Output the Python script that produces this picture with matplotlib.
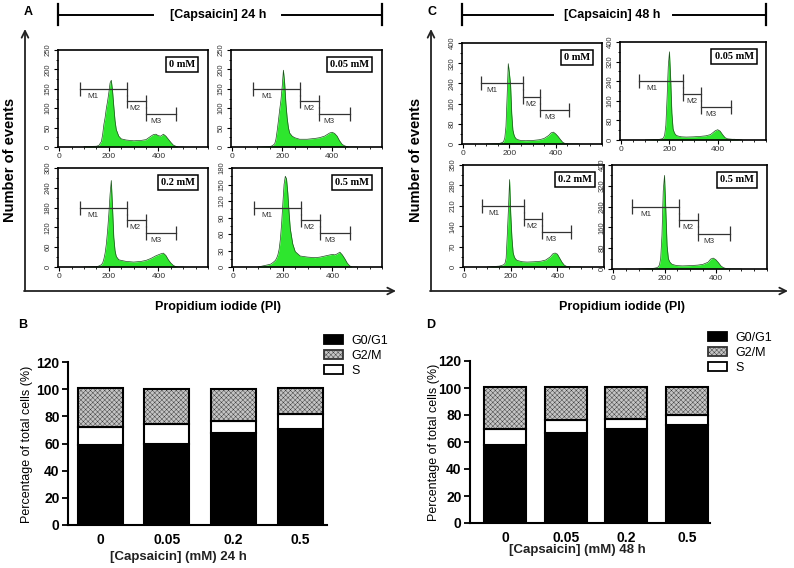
import matplotlib
matplotlib.use('Agg')
import matplotlib.pyplot as plt
from matplotlib.patches import Patch
from matplotlib.ticker import MultipleLocator, AutoMinorLocator

plt.rcParams['font.family'] = ['Liberation Sans', 'DejaVu Sans']
plt.rcParams['hatch.linewidth'] = 0.3

W, H = 794, 568

# PI channel positions and event counts
pi_channel = [100, 150, 160, 170, 175, 180, 185, 190, 195, 200, 205, 210, 215,
              220, 225, 230, 240, 250, 270, 300, 330, 350, 370, 380, 390, 400,
              410, 420, 430, 440, 450, 460, 470, 480, 500]

counts_24h_0 = [1, 2, 4, 14, 32, 58, 76, 100, 118, 140, 165, 172, 145,
                105, 68, 45, 28, 21, 18, 16, 17, 19, 28, 32, 33, 29,
                28, 33, 28, 20, 12, 5, 2, 0, 0]
counts_24h_005 = [0, 1, 3, 8, 20, 42, 68, 96, 120, 155, 198, 165, 112,
                  75, 50, 36, 28, 24, 20, 20, 22, 24, 28, 32, 36, 38,
                  35, 28, 16, 7, 3, 1, 0, 0, 0]
counts_24h_02 = [0, 1, 3, 7, 12, 24, 42, 70, 110, 160, 220, 262, 180,
                 90, 50, 32, 22, 20, 17, 15, 17, 20, 26, 30, 34, 37,
                 40, 42, 35, 22, 12, 5, 1, 0, 0]
counts_24h_05 = [0, 5, 8, 12, 16, 22, 32, 50, 78, 115, 150, 165, 160,
                 135, 100, 70, 42, 28, 20, 18, 17, 18, 20, 21, 22, 23,
                 22, 24, 27, 22, 15, 7, 2, 0, 0]

counts_48h_0 = [0, 2, 3, 6, 10, 25, 70, 190, 318, 280, 235, 120, 55,
                35, 25, 20, 16, 14, 13, 14, 17, 22, 34, 44, 47, 40,
                30, 18, 7, 2, 1, 0, 0, 0, 0]
counts_48h_005 = [0, 2, 3, 5, 8, 20, 60, 170, 300, 360, 250, 110, 45,
                  30, 22, 18, 15, 13, 12, 13, 15, 17, 22, 30, 38, 42,
                  36, 22, 10, 5, 4, 3, 3, 2, 0]
counts_48h_02 = [0, 3, 5, 8, 12, 30, 110, 200, 300, 180, 100, 50, 35,
                 28, 24, 22, 20, 18, 17, 18, 20, 24, 35, 45, 48, 44,
                 30, 16, 6, 2, 1, 0, 0, 0, 0]
counts_48h_05 = [0, 2, 3, 5, 8, 15, 40, 130, 300, 360, 230, 90, 40,
                 28, 22, 18, 15, 13, 12, 13, 15, 18, 26, 38, 42, 36,
                 25, 12, 5, 2, 1, 0, 0, 0, 0]

dose_names = ['0 mM', '0.05 mM', '0.2 mM', '0.5 mM']
ymax_24h = [250, 250, 300, 180]
ystep_24h = [50, 50, 60, 30]
ymax_48h = [400, 400, 350, 400]
ystep_48h = [80, 80, 70, 80]

gates_24h = [(85, 272), (272, 348), (348, 470)]
gates_48h = [(75, 258), (258, 332), (332, 457)]
gate_names = ['M1', 'M2', 'M3']

# cell cycle distribution (%)
conc_labels = ['0', '0.05', '0.2', '0.5']
g0g1_24h = [59, 60, 67.5, 70.5]
s_24h = [13.5, 14, 9, 11]
g2m_24h = [28.5, 26, 23.5, 19]
g0g1_48h = [57.5, 66.5, 70, 72.5]
s_48h = [12, 9.5, 7, 7.5]
g2m_48h = [31, 25, 24, 21]

GREEN = '#2ee62e'
HATCH = 'xxxxxxx'
HATCH_FC = '#c4c4c4'


def px_axes(fig, x0, y0, x1, y1):
    return fig.add_axes([x0 / W, 1 - y1 / H, (x1 - x0) / W, (y1 - y0) / H])


def histogram(fig, box, counts, ymax, ystep, gates, label):
    ax = px_axes(fig, *box)
    ax.fill_between(pi_channel, counts, color=GREEN, lw=0)
    ax.plot(pi_channel, counts, color='#1c4d1c', lw=0.5)
    ax.set_xlim(-5, 600)
    ax.set_ylim(0, ymax)
    ax.set_xticks([0, 200, 400])
    ax.xaxis.set_minor_locator(MultipleLocator(50))
    ax.set_yticks(range(0, ymax + 1, ystep))
    ax.yaxis.set_minor_locator(AutoMinorLocator(2))
    ax.tick_params(labelsize=6, labelcolor='#333333', length=3, width=0.8, pad=1.5)
    ax.tick_params(which='minor', length=1.5, width=0.6)
    for t in ax.get_yticklabels():
        t.set_rotation(90)
        t.set_va('center')
        t.set_fontsize(5.5)
    for sp in ax.spines.values():
        sp.set_linewidth(1.2)
    levels = [0.6, 0.47, 0.34]
    offs = [0.28, 0.45, 0.33]
    for (a, b), lev, off, name in zip(gates, levels, offs, gate_names):
        y = lev * ymax
        cap = 0.07 * ymax
        ax.plot([a, b], [y, y], color='#333333', lw=0.9)
        ax.vlines([a, b], y - cap, y + cap, color='#333333', lw=0.9)
        ax.text(a + off * (b - a), y - 0.04 * ymax, name, fontsize=5.8,
                color='#333333', ha='center', va='top')
    ax.text(0.915, 0.9, label, transform=ax.transAxes, ha='right', va='top',
            family='Liberation Serif', weight='bold', fontsize=7.5,
            bbox=dict(boxstyle='square,pad=0.3', fc='white', ec='black', lw=1.1))
    return ax


def cycle_bars(fig, box, g0g1, s, g2m, width, xlim, legend_xy):
    ax = px_axes(fig, *box)
    pos = list(range(len(conc_labels)))
    ax.bar(pos, g0g1, width, color='black', edgecolor='black', lw=1.5)
    ax.bar(pos, s, width, bottom=g0g1, color='white', edgecolor='black', lw=1.5)
    bottoms = [a + b for a, b in zip(g0g1, s)]
    ax.bar(pos, g2m, width, bottom=bottoms, color=HATCH_FC, edgecolor='#333333',
           hatch=HATCH, lw=0)
    ax.bar(pos, g2m, width, bottom=bottoms, fill=False, edgecolor='black', lw=1.5)
    ax.set_xlim(*xlim)
    ax.set_ylim(0, 120)
    ax.set_yticks(range(0, 121, 20))
    ax.set_xticks(pos)
    ax.set_xticklabels(conc_labels)
    ax.tick_params(labelsize=10, length=4, width=1.3, pad=2)
    ax.tick_params(axis='x', length=0, pad=6)
    for t in ax.get_xticklabels() + ax.get_yticklabels():
        t.set_fontweight('bold')
    for side in ['top', 'right']:
        ax.spines[side].set_visible(False)
    for side in ['left', 'bottom']:
        ax.spines[side].set_linewidth(1.5)
    handles = [Patch(fc='black', ec='black', lw=1.3),
               Patch(fc=HATCH_FC, ec='#333333', hatch=HATCH, lw=1.3),
               Patch(fc='white', ec='black', lw=1.3)]
    ax.legend(handles, ['G0/G1', 'G2/M', 'S'], loc='upper left',
              bbox_to_anchor=(legend_xy[0] / W, 1 - legend_xy[1] / H),
              bbox_transform=fig.transFigure, frameon=False, fontsize=9,
              handlelength=1.5, handleheight=0.75, handletextpad=0.7,
              labelspacing=0.25, borderpad=0, borderaxespad=0)
    return ax


fig = plt.figure(figsize=(W / 100, H / 100), dpi=100)

# overlay in pixel coordinates for brackets, arrows and labels
ov = fig.add_axes([0, 0, 1, 1])
ov.set_xlim(0, W)
ov.set_ylim(H, 0)
ov.axis('off')

arrow = dict(arrowstyle='->', lw=1.3, color='#222222', mutation_scale=12,
             shrinkA=0, shrinkB=0)
for (xl, xr, xt, gap, title, letter, lx, ax_x, ax_end) in [
        (58, 382, 218, (153, 282), '[Capsaicin] 24 h', 'A', 28, 25, 396),
        (462, 766, 612, (553, 673), '[Capsaicin] 48 h', 'C', 432, 431, 788)]:
    ov.plot([xl, gap[0]], [15, 15], color='black', lw=1.4)
    ov.plot([gap[1], xr], [15, 15], color='black', lw=1.4)
    ov.plot([xl, xl], [4, 25], color='black', lw=1.6)
    ov.plot([xr, xr], [4, 25], color='black', lw=1.6)
    ov.text(xt, 15, title, ha='center', va='center', fontsize=9, weight='bold')
    ov.text(lx, 12, letter, ha='center', va='center', fontsize=9, weight='bold')
    ov.annotate('', xy=(ax_x, 29), xytext=(ax_x, 291), arrowprops=arrow)
    ov.annotate('', xy=(ax_end, 291), xytext=(ax_x - 1, 291), arrowprops=arrow)
    ov.text(ax_x - 15, 160, 'Number of events', rotation=90, ha='center',
            va='center', fontsize=10.5, weight='bold')
    ov.text(xt + (0 if letter == 'A' else 10), 307, 'Propidium iodide (PI)',
            ha='center', va='center', fontsize=9, weight='bold')

ov.text(23, 325, 'B', ha='center', va='center', fontsize=9, weight='bold')
ov.text(431, 325, 'D', ha='center', va='center', fontsize=9, weight='bold')

boxes_24h = [(58, 50, 208, 147), (231, 50, 382, 147),
             (58, 168, 208, 267), (232, 168, 382, 267)]
boxes_48h = [(462, 43, 602, 144), (620, 42, 766, 140),
             (463, 165, 604, 267), (612, 165, 767, 269)]
counts_24h = [counts_24h_0, counts_24h_005, counts_24h_02, counts_24h_05]
counts_48h = [counts_48h_0, counts_48h_005, counts_48h_02, counts_48h_05]

for i in range(4):
    histogram(fig, boxes_24h[i], counts_24h[i], ymax_24h[i], ystep_24h[i],
              gates_24h, dose_names[i])
    histogram(fig, boxes_48h[i], counts_48h[i], ymax_48h[i], ystep_48h[i],
              gates_48h, dose_names[i])

cycle_bars(fig, (68, 362, 327, 525), g0g1_24h, s_24h, g2m_24h, 0.675,
           (-0.48, 3.4), (324, 335))
cycle_bars(fig, (470, 361, 710, 523), g0g1_48h, s_48h, g2m_48h, 0.69,
           (-0.577, 3.38), (708, 332))

ov.text(27, 444, 'Percentage of total cells (%)', rotation=90, ha='center',
        va='center', fontsize=9)
ov.text(434, 442, 'Percentage of total cells (%)', rotation=90, ha='center',
        va='center', fontsize=9)
ov.text(178, 557, '[Capsaicin] (mM) 24 h', ha='center', va='center',
        fontsize=9.5, weight='bold', color='#222222')
ov.text(577, 550, '[Capsaicin] (mM) 48 h', ha='center', va='center',
        fontsize=9.5, weight='bold', color='#222222')

fig.savefig('out.png', dpi=100)
